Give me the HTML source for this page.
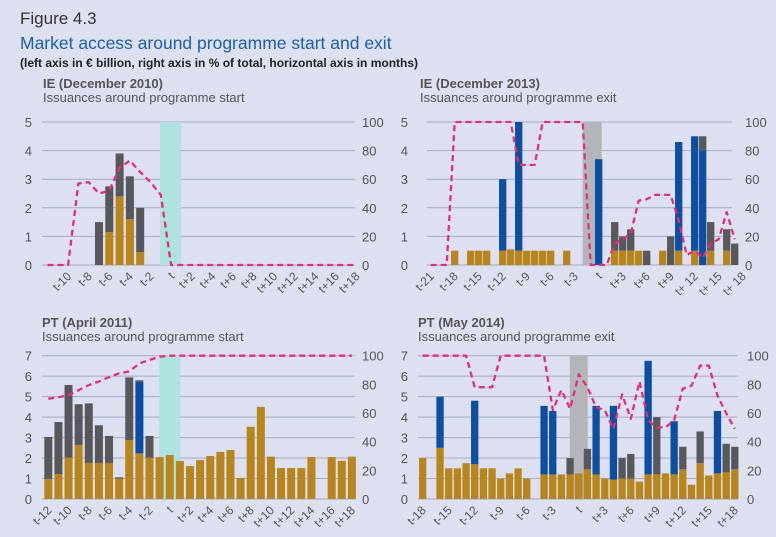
<!DOCTYPE html>
<html><head><meta charset="utf-8"><style>
html,body{margin:0;padding:0;background:#dde0f0;}
svg{display:block;font-family:"Liberation Sans",sans-serif;}
</style></head><body>
<svg id="chart" width="776" height="537" viewBox="0 0 776 537">
<rect x="0" y="0" width="776" height="537" fill="#dde0f0"/>
<text x="20" y="24" font-size="17" fill="#333">Figure 4.3</text>
<text x="20" y="49" font-size="17.5" fill="#1f5fa8">Market access around programme start and exit</text>
<text x="20" y="67" font-size="12" font-weight="bold" fill="#222">(left axis in € billion, right axis in % of total, horizontal axis in months)</text>
<g id="panels"></g>
</svg>
<script>
// ---------- Panel 1: IE Dec 2010 (t-12 .. t+18) ----------
const gold1 = [0,0,0,0,0,0,1.15,2.4,1.6,0.45,0,0,0,0,0,0,0,0,0,0,0,0,0,0,0,0,0,0,0,0,0];
const blue1 = [0,0,0,0,0,0,0,0,0,0,0,0,0,0,0,0,0,0,0,0,0,0,0,0,0,0,0,0,0,0,0];
const grey1 = [0,0,0,0,0,1.5,1.6,1.5,1.5,1.55,0,0,0,0,0,0,0,0,0,0,0,0,0,0,0,0,0,0,0,0,0];
const line1 = [0,0,0,57,58,50,52,68,73,65,58,49,0,0,0,0,0,0,0,0,0,0,0,0,0,0,0,0,0,0,0];
const ticks1 = ["t-10","t-8","t-6","t-4","t-2","t","t+2","t+4","t+6","t+8","t+10","t+12","t+14","t+16","t+18"];
// ---------- Panel 2: IE Dec 2013 (t-21 .. t+18) ----------
const gold2 = [0,0,0,0.5,0,0.5,0.5,0.5,0,0.5,0.55,0.5,0.5,0.5,0.5,0.5,0,0.5,0,0,0,0,0,0.5,0.5,0.5,0.5,0,0,0.5,0,0.5,0,0.5,0,0.5,0,0.5,0,0];
const blue2 = [0,0,0,0,0,0,0,0,0,2.5,0,4.5,0,0,0,0,0,0,0,0,0,3.7,0,0,0,0,0,0,0,0,0,3.8,0,4.0,4.0,0,0,0,0,0];
const grey2 = [0,0,0,0,0,0,0,0,0,0,0,0,0,0,0,0,0,0,0,0,0,0,0,1.0,0.5,0.75,0,0.5,0,0,1.0,0,0,0,0.5,1.0,0,0.75,0.75,0];
const line2 = [0,0,0,100,100,100,100,100,100,100,100,70,70,70,100,100,100,100,100,100,0,0,0,15,18,22,45,46,49,49,49,31,7,10,5,15,18,37,18,null];
const ticks2 = ["t-21","t-18","t-15","t-12","t-9","t-6","t-3","t","t+3","t+6","t+9","t+ 12","t+ 15","t+ 18"];
// ---------- Panel 3: PT Apr 2011 (t-12 .. t+18) ----------
const gold3 = [0.98,1.22,2.02,2.64,1.76,1.76,1.76,1.0,2.88,2.23,2.02,2.05,2.15,1.86,1.61,1.9,2.1,2.3,2.39,1.03,3.53,4.5,2.07,1.51,1.51,1.51,2.05,0,2.05,1.86,2.07];
const blue3 = [0,0,0,0,0,0,0,0,0,3.5,0,0,0,0,0,0,0,0,0,0,0,0,0,0,0,0,0,0,0,0,0];
const grey3 = [2.05,2.54,3.55,1.99,2.91,1.84,1.32,0.06,3.06,0.07,1.06,0,0,0,0,0,0,0,0,0,0,0,0,0,0,0,0,0,0,0,0];
const line3 = [70,71,72.5,76,79.5,82,85,87.7,89,94.6,97,99.3,100,100,100,100,100,100,100,100,100,100,100,100,100,100,100,100,100,100,100];
const ticks3 = ["t-12","t-10","t-8","t-6","t-4","t-2","t","t+2","t+4","t+6","t+8","t+10","t+12","t+14","t+16","t+18"];
// ---------- Panel 4: PT May 2014 (t-18 .. t+18) ----------
const gold4 = [2.0,0,2.5,1.5,1.5,1.75,1.7,1.5,1.5,1.0,1.25,1.5,1.0,0,1.2,1.2,1.2,1.2,1.25,1.45,1.2,1.0,0.95,1.0,1.0,0.85,1.2,1.2,1.25,1.2,1.45,0.7,1.75,1.15,1.25,1.3,1.45];
const blue4 = [0,0,2.5,0,0,0,3.1,0,0,0,0,0,0,0,3.35,3.1,0,0,0,0,3.35,0,3.6,0,0,0,5.55,0,0,2.6,0,0,0,0,3.05,0,0];
const grey4 = [0,0,0,0,0,0,0,0,0,0,0,0,0,0,0,0,0,0.8,0,1.0,0,0,0,1.0,1.2,0,0,2.8,0,0,1.1,0,1.55,0,0,1.4,1.1];
const line4 = [100,100,100,100,100,100,78,78,78,100,100,100,100,100,100,62,76,63,87,78,64,62,49,73,56,82,55,50,50,55,77,79,93,93,72,60,49];
const ticks4 = ["t-18","t-15","t-12","t-9","t-6","t-3","t","t+3","t+6","t+9","t+12","t+15","t+18"];

const NS = "http://www.w3.org/2000/svg";
const root = document.getElementById('panels');
function mk(tag, attrs, parent){
  const e = document.createElementNS(NS, tag);
  for (const k in attrs) e.setAttribute(k, attrs[k]);
  (parent||root).appendChild(e);
  return e;
}
function drawPanel(p){
  const g = mk('g', {});
  
  
  const n = p.gold.length;
  const xAt = i => p.x0 + i * p.step;
  const yL = v => p.yBase - v / p.lmax * (p.yBase - p.yTop);
  const yR = v => p.yBase - v / 100 * (p.yBase - p.yTop);
  const tIdx = p.startK * -1;
  const t1 = mk('text', {x:p.titleX, y:p.titleY, 'font-size':13, 'font-weight':'bold', fill:'#555'}, g);
  t1.textContent = p.title;
  
  
  const t2 = mk('text', {x:p.titleX, y:p.titleY+14, 'font-size':13, fill:'#555'}, g);
  t2.textContent = p.subtitle;
  
  
  for (let v = 0; v <= p.lmax; v++) {
    const y = yL(v);
    const gl = mk('line', {x1:p.gx0, x2:p.gx1, y1:y, y2:y, stroke:'#a6aac2', 'stroke-width':1}, g);
    
    
    const lt = mk('text', {x:p.lLab, y:y+5, 'font-size':13, fill:'#555', 'text-anchor':'end'}, g);
    lt.textContent = v;
    
    
  }
  for (let v = 0; v <= 100; v += 20) {
    const y = yR(v);
    const rt = mk('text', {x:p.rLab, y:y+5, 'font-size':13, fill:'#555'}, g);
    rt.textContent = v;
    
    
  }
  const band = mk('rect', {x:xAt(tIdx)+p.bandL, y:p.yTop, width:p.bandR-p.bandL, height:p.yBase-p.yTop, fill:p.bandColor}, g);
  
  
  for (let i = 0; i < n; i++) {
    let base = 0;
    const segs = [[p.gold[i], '#b8841c', 'bar-gold'], [p.blue[i], '#0b4ea2', 'bar-blue'], [p.grey[i], '#58585c', 'bar-grey']];
    for (const s of segs) {
      if (s[0] > 0) {
        const r = mk('rect', {x:xAt(i)-p.bw/2, y:yL(base+s[0]), width:p.bw, height:yL(base)-yL(base+s[0]), fill:s[1]}, g);
        
        
        base += s[0];
      }
    }
  }
  let d = '';
  let started = false;
  for (let i = 0; i < n; i++) {
    if (p.line[i] === null) continue;
    d += (started ? 'L' : 'M') + xAt(i).toFixed(1) + ',' + yR(p.line[i]).toFixed(1);
    started = true;
  }
  const pl = mk('path', {d:d, fill:'none', stroke:'#e62e78', 'stroke-width':2.3, 'stroke-dasharray':'6 4', 'stroke-linejoin':'round'}, g);
  
  
  for (const lab of p.ticks) {
    const k = lab === 't' ? 0 : parseInt(lab.slice(1).replace(' ', ''), 10);
    const x = xAt(k - p.startK) + 4;
    const y = p.yBase + 12;
    const tx = mk('text', {x:x, y:y, 'font-size':12, fill:'#555', 'text-anchor':'end', transform:'rotate(-45 '+x+' '+y+')'}, g);
    tx.textContent = lab;
    
    
  }
}
drawPanel({name:'panel-ie-2010', title:'IE (December 2010)', subtitle:'Issuances around programme start', titleX:43, titleY:88,
  gold:gold1, blue:blue1, grey:grey1, line:line1, ticks:ticks1, startK:-12,
  x0:47.5, step:10.3, bw:8, yBase:265, yTop:122, lmax:5, gx0:42, gx1:355, lLab:32, rLab:362,
  bandL:-11, bandR:10, bandColor:'#aee3e2'});
drawPanel({name:'panel-ie-2013', title:'IE (December 2013)', subtitle:'Issuances around programme exit', titleX:420, titleY:88,
  gold:gold2, blue:blue2, grey:grey2, line:line2, ticks:ticks2, startK:-21,
  x0:430.7, step:8, bw:7.3, yBase:265, yTop:122, lmax:5, gx0:427, gx1:732, lLab:408, rLab:745,
  bandL:-16, bandR:3, bandColor:'#b4b5ba'});
drawPanel({name:'panel-pt-2011', title:'PT (April 2011)', subtitle:'Issuances around programme start', titleX:42, titleY:327,
  gold:gold3, blue:blue3, grey:grey3, line:line3, ticks:ticks3, startK:-12,
  x0:48.3, step:10.12, bw:8, yBase:499, yTop:355.7, lmax:7, gx0:42, gx1:355, lLab:32, rLab:362,
  bandL:-10.5, bandR:10.5, bandColor:'#aee3e2'});
drawPanel({name:'panel-pt-2014', title:'PT (May 2014)', subtitle:'Issuances around programme exit', titleX:418, titleY:327,
  gold:gold4, blue:blue4, grey:grey4, line:line4, ticks:ticks4, startK:-18,
  x0:422.7, step:8.67, bw:7.3, yBase:499, yTop:355.7, lmax:7, gx0:418, gx1:738, lLab:408, rLab:747,
  bandL:-9, bandR:9, bandColor:'#b4b5ba'});
</script>
</body></html>
